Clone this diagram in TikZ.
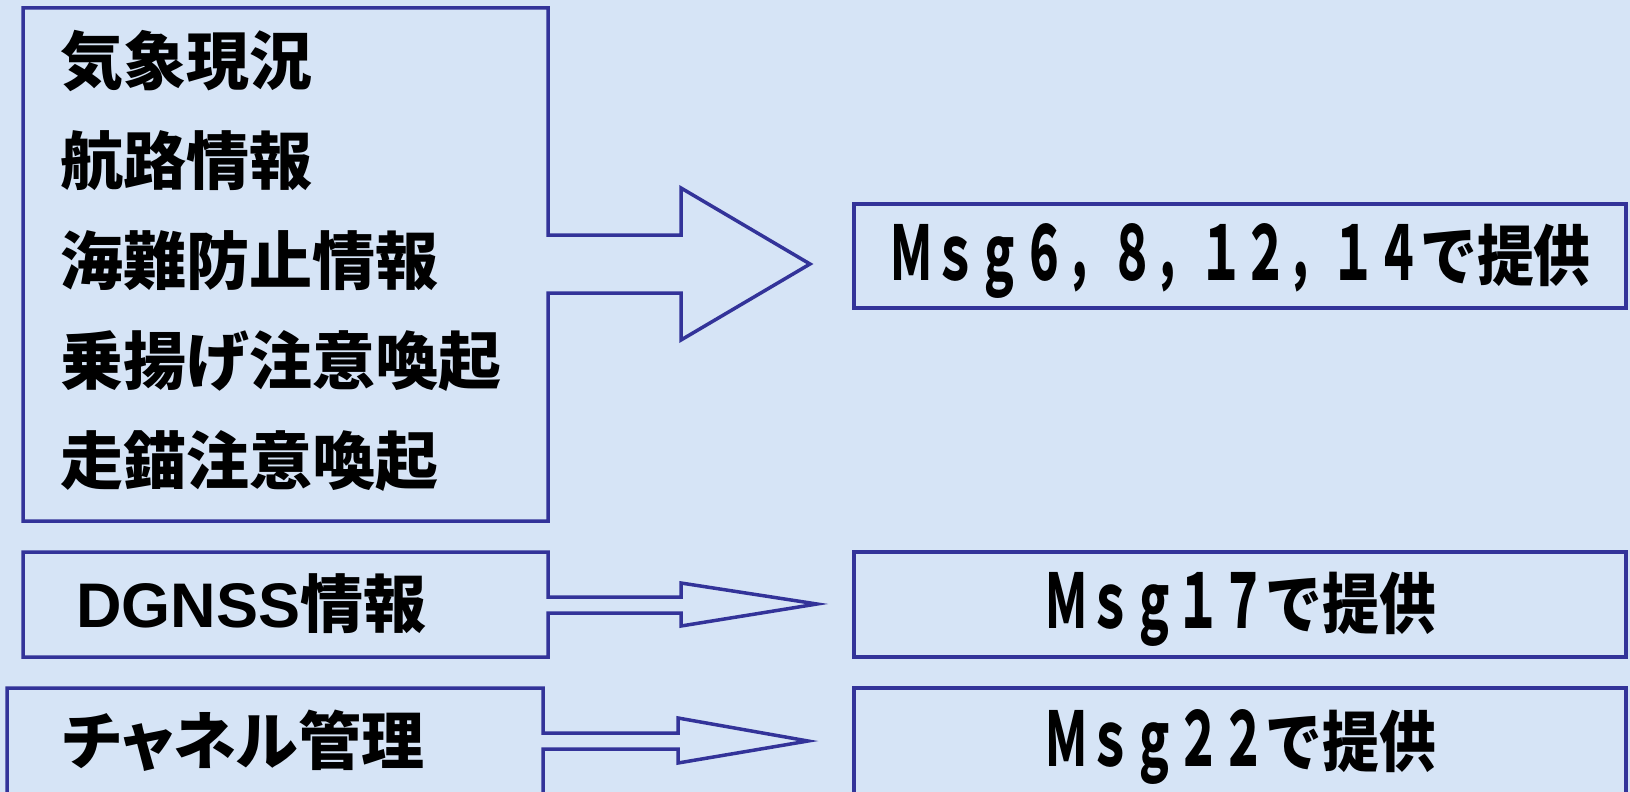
\documentclass[tikz,border=0pt]{standalone}
\usepackage{fontspec}
\newfontfamily\jp{Noto Sans CJK JP}
\newfontfamily\jppalt{Noto Sans CJK JP}[RawFeature=+palt]
\newfontfamily\arl{Liberation Sans}
\definecolor{bgblue}{RGB}{214,228,246}
\definecolor{navy}{RGB}{51,51,153}
\tikzset{
  outline/.style={draw=navy, line width=3.5pt, line join=miter},
  lefttext/.style={anchor=west, inner sep=0pt, text=black,
    font=\jp\bfseries\fontsize{63}{63}\selectfont, text height=55pt, text depth=8pt},
  msgbox/.style={draw=navy, line width=3.5pt, inner sep=0pt, text=black,
    font=\jp\bfseries\fontsize{64}{64}\selectfont, text height=56pt, text depth=8pt}
}
% full-width latin part drawn tall and narrow, kana/kanji part slightly condensed
\newcommand{\latn}[1]{\scalebox{0.59}[1]{\fontsize{75}{75}\selectfont #1}}
\newcommand{\kanj}[1]{\scalebox{0.86}[1]{\fontsize{66}{66}\selectfont #1}}
\begin{document}
\begin{tikzpicture}[x=1pt,y=-1pt]
\useasboundingbox (0,0) rectangle (1630,792);
\fill[bgblue] (0,0) rectangle (1630,792);
\clip (0,0) rectangle (1630,792);

% left group box with its fat arrow
\draw[outline] (23,8) -- (548,8) -- (548,235) -- (681,235) -- (681,188) -- (810,264)
  -- (681,340) -- (681,293) -- (548,293) -- (548,521) -- (23,521) -- cycle;
\node[lefttext] (t1) at (60,61)  {気象現況};
\node[lefttext] (t2) at (60,161) {航路情報};
\node[lefttext] (t3) at (60,261) {海難防止情報};
\node[lefttext] (t4) at (60,361) {乗揚げ注意喚起};
\node[lefttext] (t5) at (60,461) {走錨注意喚起};

% DGNSS box with arrow
\draw[outline] (23,552) -- (548,552) -- (548,597) -- (681,597) -- (681,583) -- (817,604)
  -- (681,626) -- (681,613) -- (548,613) -- (548,657) -- (23,657) -- cycle;
\node[lefttext] (dg) at (76,604) {{\arl DGNSS}情報};

% channel box with arrow (runs off the bottom)
\draw[outline] (7,810) -- (7,688) -- (543,688) -- (543,733) -- (678,733) -- (678,718)
  -- (808,741) -- (678,763) -- (678,749) -- (543,749) -- (543,810);
\node[lefttext] (ch) at (62,741) {\jppalt チャネル管理};

% right boxes
\node[msgbox, minimum width=772pt, minimum height=104pt] (m6) at (1240,256)
  {\latn{Ｍｓｇ６，８，１２，１４}\kanj{で提供}};
\node[msgbox, minimum width=772pt, minimum height=105pt] (m17) at (1240,604.5)
  {\latn{Ｍｓｇ１７}\kanj{で提供}};
\node[msgbox, minimum width=772pt, minimum height=108pt] (m22) at (1240,742)
  {\latn{Ｍｓｇ２２}\kanj{で提供}};
\end{tikzpicture}
\end{document}
